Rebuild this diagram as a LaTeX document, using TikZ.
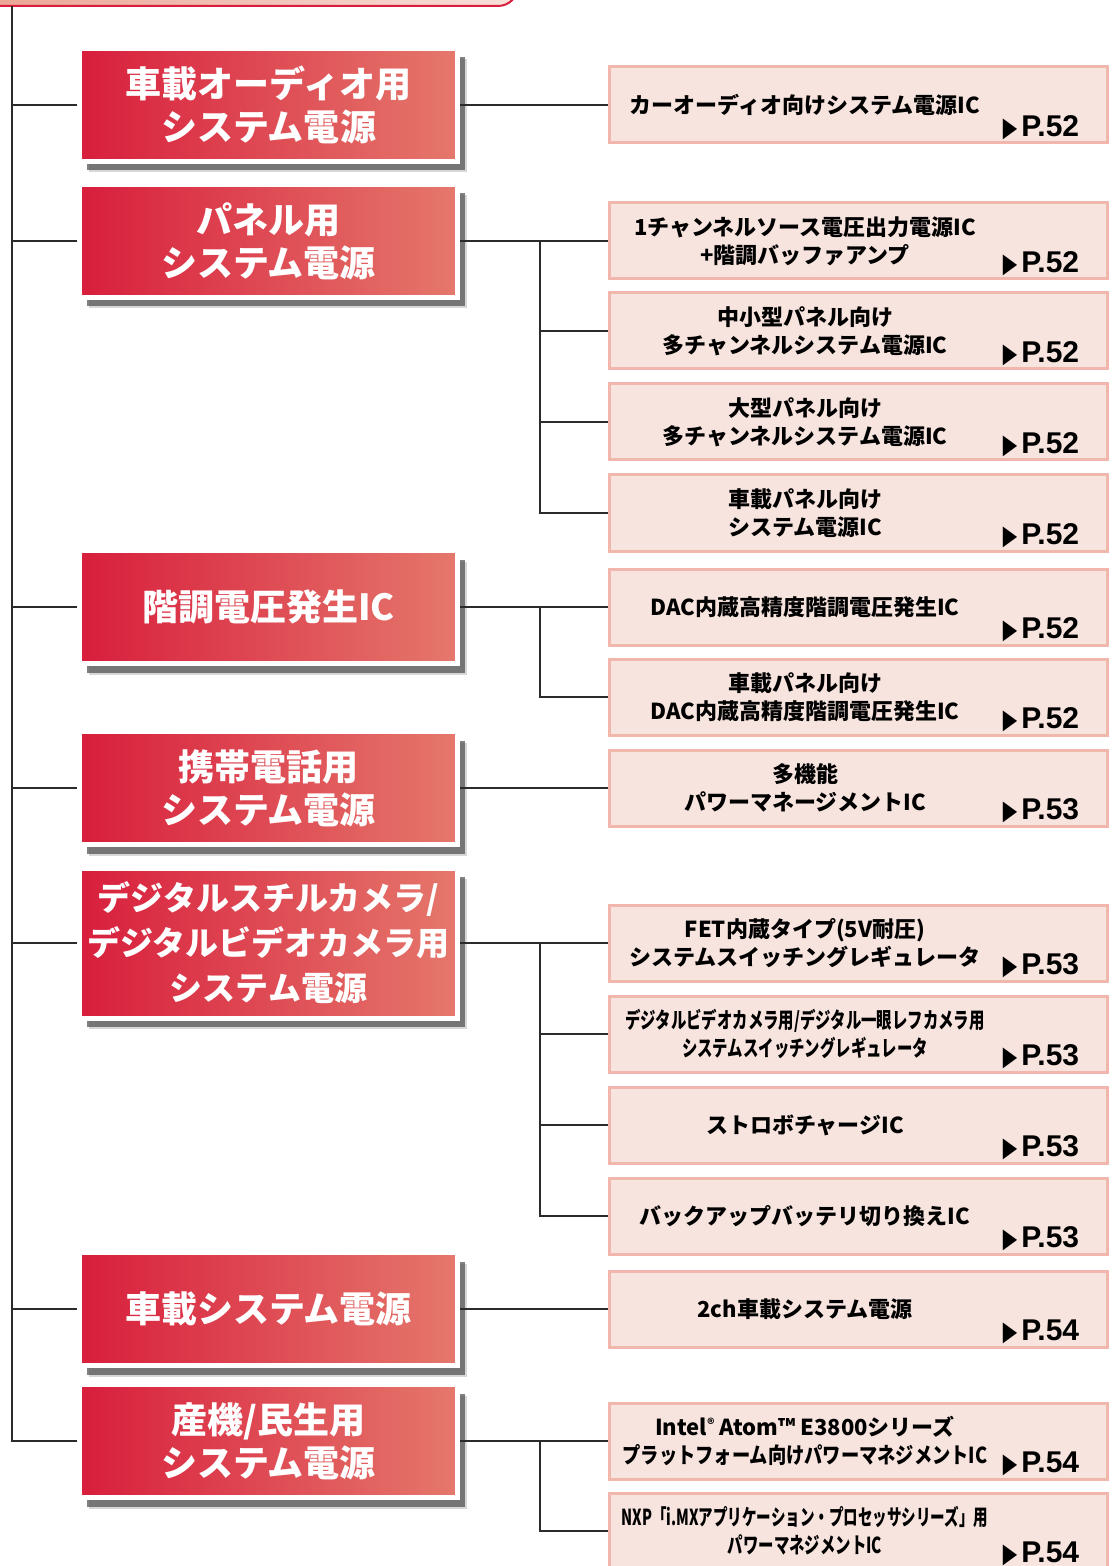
\documentclass[tikz,border=0pt]{standalone}
\usepackage{fontspec}
\usepackage{graphicx}
\setmainfont{Noto Sans CJK JP}
\newfontfamily\pagefont{Liberation Sans}
\newfontfamily\symfont{DejaVu Sans}
\usetikzlibrary{shadows}

\definecolor{catleft}{HTML}{D81E3C}
\definecolor{catright}{HTML}{E5786C}
\definecolor{itemfill}{HTML}{F8E4DF}
\definecolor{itemline}{HTML}{F2B7AC}
\definecolor{wirecol}{HTML}{2B2B2B}
\definecolor{headleft}{HTML}{EBA494}
\definecolor{headright}{HTML}{F8E0DA}

\newcommand\pagetri{{\symfont\fontsize{13}{13}\selectfont\raisebox{0.2pt}{\scalebox{0.72}[1.05]{▶}}}\hspace{2pt}}
\newcommand\narrow[2][0.7]{\scalebox{#1}[1]{#2}}

\begin{document}
\begin{tikzpicture}[x=0.5pt,y=-0.5pt,
    catbox/.style={rectangle, minimum width=189pt, minimum height=56.5pt,
      left color=catleft, right color=catright, draw=white, line width=2.5pt,
      text=white, align=center, inner sep=0pt,
      font=\bfseries\fontsize{18}{21.5}\selectfont,
      drop shadow={shadow xshift=4.5pt, shadow yshift=-5.5pt, fill=black!45, opacity=.35},
      drop shadow={shadow xshift=3.5pt, shadow yshift=-4.5pt, fill=black!70, opacity=.7}},
    itembox/.style={rectangle, minimum width=249pt, minimum height=38pt,
      fill=itemfill, draw=itemline, line width=1.5pt},
    itemtext/.style={align=center, inner sep=0pt,
      font=\bfseries\fontsize{11}{14}\selectfont},
    pageref/.style={anchor=base east, inner sep=0pt,
      font=\pagefont\bfseries\fontsize{15}{15}\selectfont},
    wire/.style={draw=wirecol, line width=0.9pt}]
  \useasboundingbox (0,0) rectangle (1112,1566);

  % header strip, cut at the top
  \shadedraw[left color=headleft, right color=headright, draw=catleft,
    line width=1pt, rounded corners=10pt] (-20,-60) rectangle (518,6);

  % categories
  \node[catbox] (cat1) at (268.5,105) {車載オーディオ用\\システム電源};
  \node[catbox] (cat2) at (268.5,241) {パネル用\\システム電源};
  \node[catbox] (cat3) at (268.5,607) {階調電圧発生IC};
  \node[catbox] (cat4) at (268.5,788) {携帯電話用\\システム電源};
  \node[catbox, minimum height=75pt, font=\bfseries\fontsize{16.5}{22.5}\selectfont]
    (cat5) at (268.5,943) {デジタルスチルカメラ/\\デジタルビデオカメラ用\\システム電源};
  \node[catbox] (cat6) at (268.5,1309) {車載システム電源};
  \node[catbox] (cat7) at (268.5,1441) {産機/民生用\\システム電源};

  % products
  \node[itembox] (item1) at (858,105) {};
  \node[itembox] (item2) at (858,241) {};
  \node[itembox] (item3) at (858,331) {};
  \node[itembox] (item4) at (858,422) {};
  \node[itembox] (item5) at (858,513) {};
  \node[itembox] (item6) at (858,607) {};
  \node[itembox] (item7) at (858,697) {};
  \node[itembox] (item8) at (858,788) {};
  \node[itembox] (item9) at (858,943) {};
  \node[itembox] (item10) at (858,1034) {};
  \node[itembox] (item11) at (858,1125) {};
  \node[itembox] (item12) at (858,1216) {};
  \node[itembox] (item13) at (858,1309) {};
  \node[itembox] (item14) at (858,1441) {};
  \node[itembox] (item15) at (858,1531) {};

  \node[itemtext] (text1) at ([xshift=-26.5pt]item1.center) {カーオーディオ向けシステム電源IC};
  \node[itemtext] (text2) at ([xshift=-26.5pt]item2.center) {1チャンネルソース電圧出力電源IC\\+階調バッファアンプ};
  \node[itemtext] (text3) at ([xshift=-26.5pt]item3.center) {中小型パネル向け\\多チャンネルシステム電源IC};
  \node[itemtext] (text4) at ([xshift=-26.5pt]item4.center) {大型パネル向け\\多チャンネルシステム電源IC};
  \node[itemtext] (text5) at ([xshift=-26.5pt]item5.center) {車載パネル向け\\システム電源IC};
  \node[itemtext] (text6) at ([xshift=-26.5pt]item6.center) {DAC内蔵高精度階調電圧発生IC};
  \node[itemtext] (text7) at ([xshift=-26.5pt]item7.center) {車載パネル向け\\DAC内蔵高精度階調電圧発生IC};
  \node[itemtext] (text8) at ([xshift=-26.5pt]item8.center) {多機能\\パワーマネージメントIC};
  \node[itemtext] (text9) at ([xshift=-26.5pt]item9.center) {FET内蔵タイプ(5V耐圧)\\システムスイッチングレギュレータ};
  \node[itemtext] (text10) at ([xshift=-26.5pt]item10.center)
    {\narrow{デジタルビデオカメラ用/デジタル一眼レフカメラ用}\\\narrow{システムスイッチングレギュレータ}};
  \node[itemtext] (text11) at ([xshift=-26.5pt]item11.center) {ストロボチャージIC};
  \node[itemtext] (text12) at ([xshift=-26.5pt]item12.center) {バックアップバッテリ切り換えIC};
  \node[itemtext] (text13) at ([xshift=-26.5pt]item13.center) {2ch車載システム電源};
  \node[itemtext] (text14) at ([xshift=-26.5pt]item14.center)
    {Intel\raisebox{0.5ex}{\scriptsize ®} Atom™ E3800シリーズ\\\narrow[0.83]{プラットフォーム向けパワーマネジメントIC}};
  \node[itemtext] (text15) at ([xshift=-26.5pt]item15.center)
    {\narrow[0.66]{NXP「i.MXアプリケーション・プロセッサシリーズ」用}\\\narrow{パワーマネジメントIC}};

  \node[pageref] (page1) at ([xshift=-14.5pt,yshift=4pt]item1.south east) {\pagetri P.52};
  \node[pageref] (page2) at ([xshift=-14.5pt,yshift=4pt]item2.south east) {\pagetri P.52};
  \node[pageref] (page3) at ([xshift=-14.5pt,yshift=4pt]item3.south east) {\pagetri P.52};
  \node[pageref] (page4) at ([xshift=-14.5pt,yshift=4pt]item4.south east) {\pagetri P.52};
  \node[pageref] (page5) at ([xshift=-14.5pt,yshift=4pt]item5.south east) {\pagetri P.52};
  \node[pageref] (page6) at ([xshift=-14.5pt,yshift=4pt]item6.south east) {\pagetri P.52};
  \node[pageref] (page7) at ([xshift=-14.5pt,yshift=4pt]item7.south east) {\pagetri P.52};
  \node[pageref] (page8) at ([xshift=-14.5pt,yshift=4pt]item8.south east) {\pagetri P.53};
  \node[pageref] (page9) at ([xshift=-14.5pt,yshift=4pt]item9.south east) {\pagetri P.53};
  \node[pageref] (page10) at ([xshift=-14.5pt,yshift=4pt]item10.south east) {\pagetri P.53};
  \node[pageref] (page11) at ([xshift=-14.5pt,yshift=4pt]item11.south east) {\pagetri P.53};
  \node[pageref] (page12) at ([xshift=-14.5pt,yshift=4pt]item12.south east) {\pagetri P.53};
  \node[pageref] (page13) at ([xshift=-14.5pt,yshift=4pt]item13.south east) {\pagetri P.54};
  \node[pageref] (page14) at ([xshift=-14.5pt,yshift=4pt]item14.south east) {\pagetri P.54};
  \node[pageref] (page15) at ([xshift=-14.5pt,yshift=4pt]item15.south east) {\pagetri P.54};

  % left trunk
  \coordinate (trunk) at (12,6);
  \draw[wire, line width=1.2pt] (trunk) |- (cat7.west);
  \foreach \c in {cat1,cat2,cat3,cat4,cat5,cat6}
    \draw[wire] (trunk |- \c.west) -- (\c.west);

  % branches
  \coordinate (join2) at (540,241);
  \coordinate (join3) at (540,607);
  \coordinate (join5) at (540,943);
  \coordinate (join7) at (540,1441);
  \draw[wire] (cat1.east) -- (item1.west);
  \draw[wire] (cat4.east) -- (item8.west);
  \draw[wire] (cat6.east) -- (item13.west);
  \draw[wire] (cat2.east) -- (join2);
  \draw[wire] (cat3.east) -- (join3);
  \draw[wire] (cat5.east) -- (join5);
  \draw[wire] (cat7.east) -- (join7);
  \foreach \i in {2,3,4,5}
    \draw[wire] (join2) |- (item\i.west);
  \foreach \i in {6,7}
    \draw[wire] (join3) |- (item\i.west);
  \foreach \i in {9,10,11,12}
    \draw[wire] (join5) |- (item\i.west);
  \foreach \i in {14,15}
    \draw[wire] (join7) |- (item\i.west);
\end{tikzpicture}
\end{document}
